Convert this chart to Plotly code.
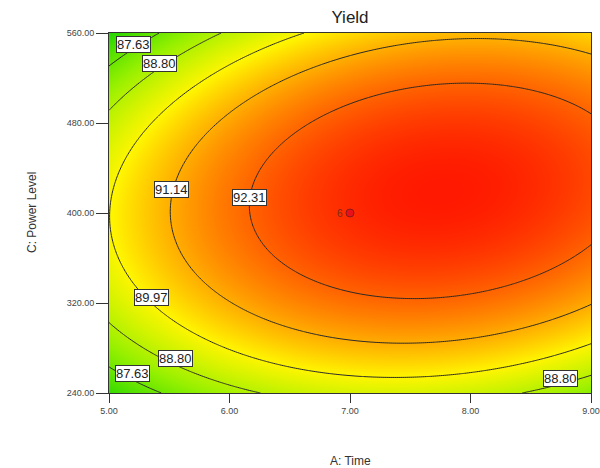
import numpy as np
import plotly.graph_objects as go

# Quadratic response-surface model for Yield, in coded factors
# a = (Time - 7) / 2, c = (Power - 400) / 160
coef_terms = ["Intercept", "A", "C", "AC", "A^2", "C^2"]
coef_values = [93.195, 1.339, 0.561, 0.688, -1.90, -3.33]

time_range = [5.0, 9.0]
power_range = [240.0, 560.0]
time_ticks = [5, 6, 7, 8, 9]
power_ticks = [240, 320, 400, 480, 560]

contour_levels = [87.63, 88.80, 89.97, 91.14, 92.31]

# Contour label placements (Time, Power, level text)
label_time = [5.20, 5.417, 5.52, 6.162, 5.349, 5.548, 5.194, 8.743]
label_power = [550.2, 532.7, 421.1, 413.6, 325.0, 270.8, 257.2, 252.7]
label_text = ["87.63", "88.80", "91.14", "92.31", "89.97", "88.80", "87.63", "88.80"]

# Design (center) point
design_time = [7.0]
design_power = [400.0]
design_count = ["6"]

b0, bA, bC, bAC, bAA, bCC = coef_values


def yield_model(t, p):
    a = (t - 7.0) / 2.0
    c = (p - 400.0) / 160.0
    return b0 + bA * a + bC * c + bAC * a * c + bAA * a ** 2 + bCC * c ** 2


tx = np.linspace(time_range[0], time_range[1], 241)
py = np.linspace(power_range[0], power_range[1], 241)
TT, PP = np.meshgrid(tx, py)
Z = yield_model(TT, PP)

zmin, zmax = 86.55, 93.47
colorscale = [
    [0.00, "rgb(40,215,0)"],
    [0.25, "rgb(150,240,0)"],
    [0.50, "rgb(255,245,0)"],
    [0.75, "rgb(255,135,0)"],
    [1.00, "rgb(255,25,0)"],
]

FONT = "Liberation Sans, Arial"

fig = go.Figure()

fig.add_trace(go.Heatmap(
    x=tx, y=py, z=Z, zmin=zmin, zmax=zmax,
    colorscale=colorscale, showscale=False, zsmooth="best",
    hoverinfo="skip",
))

fig.add_trace(go.Contour(
    x=tx, y=py, z=Z,
    autocontour=False,
    contours=dict(start=contour_levels[0], end=contour_levels[-1],
                  size=round(contour_levels[1] - contour_levels[0], 2),
                  coloring="none", showlabels=False),
    line=dict(color="#2a2a2a", width=1),
    showscale=False, hoverinfo="skip",
))

fig.add_trace(go.Scatter(
    x=design_time, y=design_power, mode="markers",
    marker=dict(symbol="circle", size=8, color="#e8101a",
                line=dict(color="#8b1a1a", width=1)),
    hoverinfo="skip", showlegend=False,
))

annotations = []
for t, p, s in zip(label_time, label_power, label_text):
    annotations.append(dict(
        x=t, y=p, xref="x", yref="y", text=s, showarrow=False,
        font=dict(family=FONT, size=13, color="#222"),
        bgcolor="white", bordercolor="#333", borderwidth=1, borderpad=0,
    ))
for t, p, s in zip(design_time, design_power, design_count):
    annotations.append(dict(
        x=t, y=p, xref="x", yref="y", text=s, showarrow=False,
        xanchor="right", xshift=-5,
        font=dict(family=FONT, size=10, color="#7a2a1a"),
    ))

# Axis titles
annotations.append(dict(
    x=0.5, y=0, xref="paper", yref="paper", text="A: Time", showarrow=False,
    xanchor="center", yanchor="middle", yshift=-68,
    font=dict(family=FONT, size=12, color="#333"),
))
annotations.append(dict(
    x=0, y=0.5, xref="paper", yref="paper", text="C: Power Level", showarrow=False,
    xanchor="center", yanchor="middle", xshift=-77, textangle=-90,
    font=dict(family=FONT, size=12, color="#333"),
))

axis_font = dict(family=FONT, size=9, color="#444")

fig.update_layout(
    width=600, height=468,
    margin=dict(l=109, r=9, t=33, b=75),
    paper_bgcolor="white", plot_bgcolor="white",
    showlegend=False,
    title=dict(text="Yield", x=0.5, xanchor="center", xref="paper",
               y=1 - 17 / 468, yanchor="middle",
               font=dict(family=FONT, size=17, color="#222")),
    annotations=annotations,
    xaxis=dict(
        range=time_range, tickvals=time_ticks,
        ticktext=[f"{v:.2f}" for v in time_ticks],
        ticks="outside", ticklen=9, tickcolor="#333", tickfont=axis_font,
        showline=True, linecolor="#333", linewidth=1, mirror=True,
        showgrid=False, zeroline=False, automargin=False,
    ),
    yaxis=dict(
        range=power_range, tickvals=power_ticks,
        ticktext=[f"{v:.2f}" for v in power_ticks],
        ticks="outside", ticklen=12, tickcolor="#333", tickfont=axis_font,
        showline=True, linecolor="#333", linewidth=1, mirror=True,
        showgrid=False, zeroline=False, automargin=False,
    ),
)

fig.write_html("out.html")
